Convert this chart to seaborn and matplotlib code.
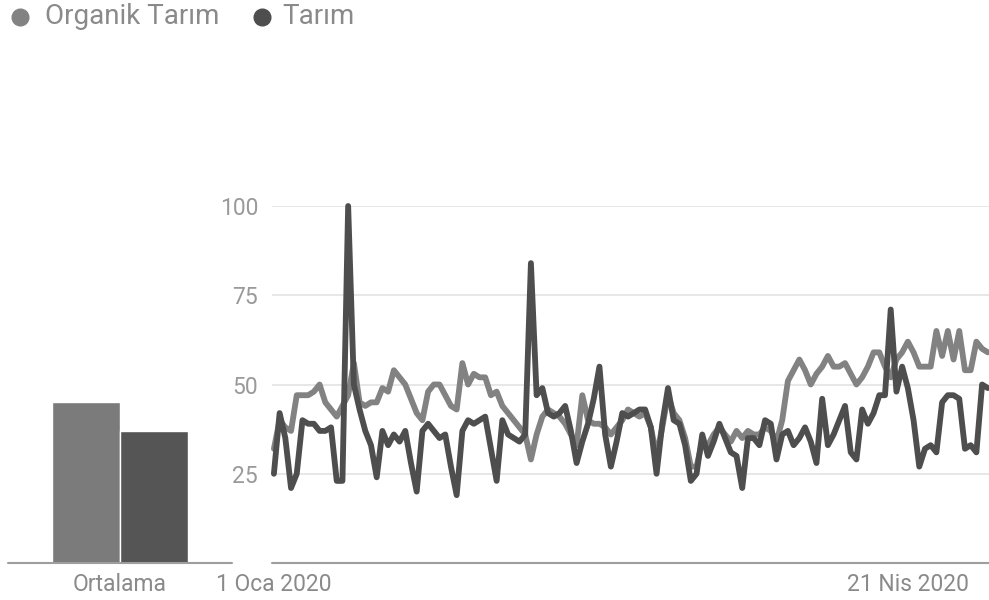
import pandas as pd
import matplotlib.pyplot as plt
import seaborn as sns
from matplotlib.lines import Line2D

# Data (daily values from 1 Jan 2020)
series_names = ["Organik Tarım", "Tarım"]
start_date = "2020-01-01"

organik = [
    32, 40, 38, 37, 47, 47, 47, 48, 50, 45, 43, 41, 44, 47, 56, 45, 44, 45, 45, 49, 48,
    54, 52, 50, 46, 42, 40, 48, 50, 50, 47, 44, 43, 56, 50, 53, 52, 52, 47, 48, 44, 42,
    40, 38, 36, 29, 36, 41, 43, 42, 41, 39, 36, 33, 47, 40, 39, 39, 38, 36, 38, 40, 43,
    42, 41, 42, 38, 30, 38, 47, 42, 40, 35, 27, 27, 34, 33, 36, 38, 36, 34, 37, 35, 37,
    36, 36, 38, 37, 34, 40, 51, 54, 57, 54, 50, 53, 55, 58, 55, 55, 56, 53, 50, 52, 55, 59,
    59, 55, 52, 57, 59, 62, 59, 55, 55, 55, 65, 58, 65, 57, 65, 54, 54, 62, 60, 59,
]
tarim = [
    25, 42, 35, 21, 25, 40, 39, 39, 37, 37, 38, 23, 23, 100, 50, 43, 37, 33, 24, 37, 33,
    36, 34, 37, 28, 20, 37, 39, 37, 35, 36, 27, 19, 37, 40, 39, 40, 41, 32, 23, 40, 36,
    35, 34, 36, 84, 47, 49, 42, 41, 42, 44, 37, 28, 34, 39, 46, 55, 36, 27, 34, 42, 41,
    42, 43, 43, 38, 25, 39, 49, 40, 39, 33, 23, 25, 36, 30, 34, 39, 35, 31, 30, 21, 35,
    35, 33, 40, 39, 29, 36, 37, 33, 35, 38, 34, 28, 46, 33, 36, 40, 44, 31, 29, 43, 39, 42,
    47, 47, 71, 48, 55, 49, 40, 27, 32, 33, 31, 45, 47, 47, 46, 32, 33, 31, 50, 49,
]
averages = [45, 37]
bar_group = "Ortalama"

tick_dates = ["2020-01-01", "2020-04-21"]
tick_labels = ["1 Oca 2020", "21 Nis 2020"]
yticks = [25, 50, 75, 100]

line_colors = {"Organik Tarım": "#828282", "Tarım": "#4e4e4e"}
bar_colors = {"Organik Tarım": "#7b7b7b", "Tarım": "#555555"}
text_color = "#9a9a9a"

sns.set_style("white")
plt.rcParams["font.family"] = ["Roboto", "DejaVu Sans"]

dates = pd.date_range(start_date, periods=len(organik), freq="D")
df = pd.DataFrame({
    "Tarih": list(dates) * 2,
    "Değer": organik + tarim,
    "Seri": [series_names[0]] * len(organik) + [series_names[1]] * len(tarim),
})
bar_df = pd.DataFrame({
    "Grup": [bar_group] * 2,
    "Seri": series_names,
    "Değer": averages,
})

W, H = 989, 600
fig = plt.figure(figsize=(W / 100, H / 100), dpi=100)
ax_bar = fig.add_axes([8 / W, 37 / H, 224 / W, 357 / H])
ax = fig.add_axes([272 / W, 37 / H, 717 / W, 357 / H])

# Average bars
sns.barplot(data=bar_df, x="Grup", y="Değer", hue="Seri", palette=bar_colors,
            width=0.8, gap=0, saturation=1, legend=False, ax=ax_bar)
ax_bar.set_xlim(-0.659, 0.659)
ax_bar.set_ylim(0, 100)
ax_bar.set_yticks([])
ax_bar.set_xlabel("")
ax_bar.set_ylabel("")
ax_bar.axhline(0, color="#9e9e9e", lw=1.5, clip_on=False)
ax_bar.tick_params(axis="x", length=0, pad=7, labelsize=16.5, labelcolor="#8a8a8a")
sns.despine(ax=ax_bar, left=True, bottom=True)

# Time series
sns.lineplot(data=df, x="Tarih", y="Değer", hue="Seri", palette=line_colors,
             linewidth=4.2, legend=False, ax=ax)
for ln in ax.lines:
    ln.set_clip_on(False)
    ln.set_solid_joinstyle("round")
ax.set_xlim(dates[0] - pd.Timedelta(hours=8), dates[-1] + pd.Timedelta(hours=5))
ax.set_ylim(0, 100)
ax.set_yticks(yticks)
ax.set_xticks(pd.to_datetime(tick_dates))
ax.set_xticklabels(tick_labels)
ax.set_xlabel("")
ax.set_ylabel("")
ax.yaxis.grid(True, color="#e3e3e3", lw=1.2)
ax.set_axisbelow(True)
ax.axhline(0, color="#9e9e9e", lw=1.5, clip_on=False)
ax.tick_params(axis="y", length=0, pad=10, labelsize=16.5, labelcolor=text_color)
ax.tick_params(axis="x", length=0, pad=7, labelsize=16.5, labelcolor="#8a8a8a")
sns.despine(ax=ax, left=True, bottom=True)

# Legend at top left
legend_items = [(20, 45, series_names[0]), (262, 282, series_names[1])]
for mx, tx, name in legend_items:
    fig.add_artist(Line2D([mx / W], [1 - 17 / H], marker="o", markersize=12,
                          color=line_colors[name], linestyle="none",
                          transform=fig.transFigure))
    fig.text(tx / W, 1 - 17 / H, name, fontsize=20, color="#8a8a8a",
             va="center", ha="left")

fig.savefig("out.png", dpi=100)
